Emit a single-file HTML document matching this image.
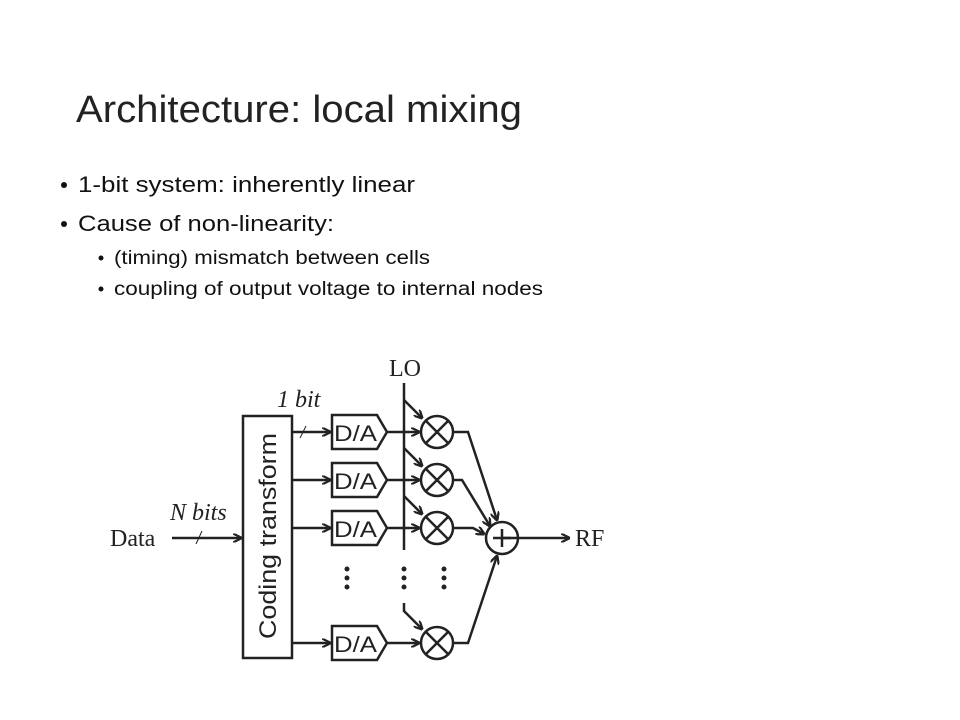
<!DOCTYPE html>
<html><head><meta charset="utf-8"><style>body{margin:0;background:#fff}svg{display:block}</style></head>
<body>
<svg width="960" height="720" viewBox="0 0 960 720" xmlns="http://www.w3.org/2000/svg" font-family="Liberation Sans, sans-serif">
<defs><marker id="a" markerWidth="9" markerHeight="9" refX="8" refY="4.5" orient="auto" markerUnits="userSpaceOnUse"><path d="M0,0 L9,4.5 L0,9" fill="none" stroke="#222" stroke-width="2.2"/></marker></defs>
<text x="76" y="122" font-size="38" fill="#222" textLength="446" lengthAdjust="spacingAndGlyphs">Architecture: local mixing</text>
<g fill="#111">
<circle cx="64" cy="185" r="3"/><circle cx="64" cy="224" r="3"/>
<circle cx="101" cy="258" r="2.5"/><circle cx="101" cy="289" r="2.5"/>
<text x="78" y="192" font-size="22" textLength="337" lengthAdjust="spacingAndGlyphs">1-bit system: inherently linear</text>
<text x="78" y="231" font-size="22" textLength="256" lengthAdjust="spacingAndGlyphs">Cause of non-linearity:</text>
<text x="114" y="264" font-size="19" textLength="316" lengthAdjust="spacingAndGlyphs">(timing) mismatch between cells</text>
<text x="114" y="295" font-size="19" textLength="429" lengthAdjust="spacingAndGlyphs">coupling of output voltage to internal nodes</text>
</g>
<g stroke="#222" stroke-width="2.5" fill="none">
<rect x="243" y="416" width="49" height="242"/>
<line x1="172" y1="538" x2="241" y2="538" marker-end="url(#a)"/>
<line x1="196" y1="544" x2="202" y2="531" stroke-width="1"/>
<line x1="300" y1="438" x2="306" y2="426" stroke-width="1"/>
<line x1="404" y1="383" x2="404" y2="550"/>
<line x1="404" y1="603" x2="404" y2="612"/>
<line x1="502" y1="538" x2="569" y2="538" marker-end="url(#a)"/>
<circle cx="502" cy="538" r="16"/>
<line x1="502" y1="529" x2="502" y2="547"/><line x1="493" y1="538" x2="511" y2="538"/>
<path d="M453,432 L468,432 L497,520" marker-end="url(#a)"/>
<path d="M453,480 L462,480 L490,526" marker-end="url(#a)"/>
<path d="M453,528 L473,528 L484,534" marker-end="url(#a)"/>
<path d="M453,643 L468,643 L497,556" marker-end="url(#a)"/>
</g>
<g stroke="#222" stroke-width="2.5" fill="none">
<g id="r1">
<line x1="292" y1="432" x2="330" y2="432" marker-end="url(#a)"/>
<path d="M332,415 L377,415 L387,432 L377,449 L332,449 Z"/>
<line x1="387" y1="432" x2="419" y2="432" marker-end="url(#a)"/>
<circle cx="437" cy="432" r="16"/>
<line x1="426" y1="421" x2="448" y2="443"/><line x1="448" y1="421" x2="426" y2="443"/>
<line x1="404" y1="400" x2="422" y2="418" marker-end="url(#a)"/>
</g>
<use href="#r1" y="48"/>
<use href="#r1" y="96"/>
<line x1="292" y1="643" x2="330" y2="643" marker-end="url(#a)"/>
<path d="M332,626 L377,626 L387,643 L377,660 L332,660 Z"/>
<line x1="387" y1="643" x2="419" y2="643" marker-end="url(#a)"/>
<circle cx="437" cy="643" r="16"/>
<line x1="426" y1="632" x2="448" y2="654"/><line x1="448" y1="632" x2="426" y2="654"/>
<line x1="404" y1="611" x2="422" y2="629" marker-end="url(#a)"/>
</g>
<g fill="#222">
<circle cx="347" cy="569" r="2.5"/><circle cx="347" cy="578" r="2.5"/><circle cx="347" cy="587" r="2.5"/>
<circle cx="404" cy="569" r="2.5"/><circle cx="404" cy="578" r="2.5"/><circle cx="404" cy="587" r="2.5"/>
<circle cx="444" cy="569" r="2.5"/><circle cx="444" cy="578" r="2.5"/><circle cx="444" cy="587" r="2.5"/>
</g>
<g fill="#222" font-size="22">
<text x="334" y="441" textLength="43" lengthAdjust="spacingAndGlyphs">D/A</text>
<text x="334" y="489" textLength="43" lengthAdjust="spacingAndGlyphs">D/A</text>
<text x="334" y="537" textLength="43" lengthAdjust="spacingAndGlyphs">D/A</text>
<text x="334" y="652" textLength="43" lengthAdjust="spacingAndGlyphs">D/A</text>
<text transform="translate(276,536) rotate(-90)" text-anchor="middle" font-size="24" textLength="206" lengthAdjust="spacingAndGlyphs">Coding transform</text>
</g>
<g fill="#222" font-family="Liberation Serif, serif" font-size="24">
<text x="110" y="546">Data</text>
<text x="575" y="546">RF</text>
<text x="389" y="376">LO</text>
<text x="170" y="520" font-style="italic">N bits</text>
<text x="277" y="407" font-style="italic">1 bit</text>
</g>
</svg>
</body></html>
